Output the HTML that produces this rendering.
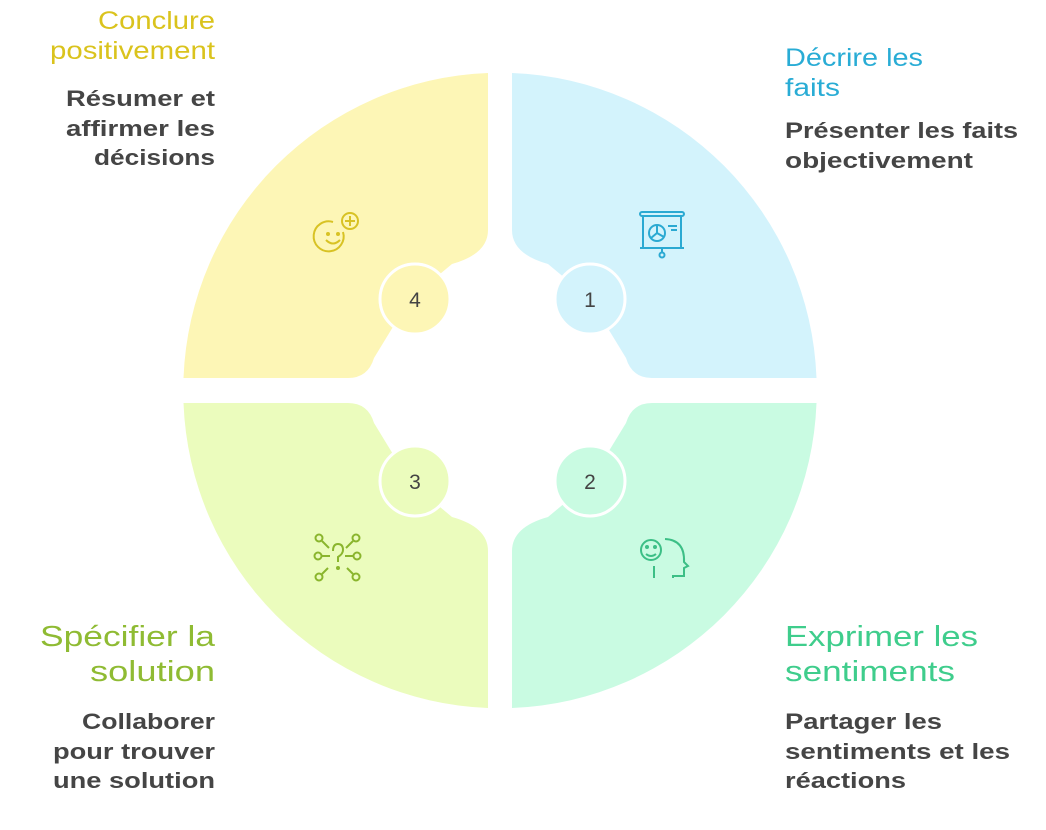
<!DOCTYPE html>
<html><head><meta charset="utf-8"><style>
html,body{margin:0;padding:0;background:#fff;}
svg{display:block;}
text{font-family:"Liberation Sans",sans-serif;}
.t{font-size:25px;}
.tb{font-size:29px;}
.b{font-size:22px;font-weight:bold;fill:#454545;}
</style></head><body>
<svg width="1046" height="830" viewBox="0 0 1046 830" xmlns="http://www.w3.org/2000/svg">
<defs>
<path id="q" d="M512,73 A317,317 0 0 1 816.5,378 L652,378 Q632,378 626,358 L590,299 L548,264 Q512,254 512,230 Z"/>
</defs>
<use href="#q" fill="#d3f3fc"/>
<use href="#q" fill="#fdf6b6" transform="translate(1000,0) scale(-1,1)"/>
<use href="#q" fill="#c9fbe2" transform="translate(0,781) scale(1,-1)"/>
<use href="#q" fill="#ebfcbd" transform="translate(1000,781) scale(-1,-1)"/>

<g stroke="#fff" stroke-width="3">
<circle cx="590" cy="299" r="35" fill="#d3f3fc"/>
<circle cx="415" cy="299" r="35" fill="#fdf6b6"/>
<circle cx="590" cy="481" r="35" fill="#c9fbe2"/>
<circle cx="415" cy="481" r="35" fill="#ebfcbd"/>
</g>
<g font-size="21" fill="#444" text-anchor="middle">
<text x="590" y="307">1</text><text x="415" y="307">4</text>
<text x="590" y="489">2</text><text x="415" y="489">3</text>
</g>

<!-- icon 1 -->
<g fill="none" stroke="#2aa9d2" stroke-width="2">
<rect x="640" y="212" width="44" height="4" rx="2"/>
<path d="M643,216 V248 H681 V216 M640,248 H684 M662,248 V252"/>
<circle cx="662" cy="255" r="2.5"/>
<circle cx="657" cy="233" r="8"/>
<path d="M657,225 V233 L664,237 M657,233 L651,238"/>
<path d="M668,226 H677 M671,230 H677"/>
</g>
<!-- icon 4 -->
<g fill="none" stroke="#d8c224" stroke-width="2">
<path d="M343,232 A15,15 0 1 1 333,222"/>
<circle cx="350" cy="221" r="8"/>
<path d="M350,216 V226 M345,221 H355"/>
<circle cx="328" cy="234" r="1" fill="#d8c224"/><circle cx="338" cy="234" r="1" fill="#d8c224"/>
<path d="M326,240 Q333,247 340,240"/>
</g>
<!-- icon 3 -->
<g fill="none" stroke="#8ab52d" stroke-width="2">
<circle cx="319" cy="538" r="3.5"/><circle cx="356" cy="538" r="3.5"/>
<circle cx="318" cy="556" r="3.5"/><circle cx="357" cy="556" r="3.5"/>
<circle cx="319" cy="577" r="3.5"/><circle cx="356" cy="577" r="3.5"/>
<path d="M322,541 L329,548 M353,541 L346,548 M322,556 H330 M345,556 H353 M322,574 L328,568 M353,574 L347,568"/>
<path d="M333,551 Q333,544 338,544 Q343,544 343,550 Q343,554 338,557 V562"/>
<circle cx="338" cy="568" r="1" fill="#8ab52d"/>
</g>
<!-- icon 2 -->
<g fill="none" stroke="#3cbf86" stroke-width="2">
<circle cx="651" cy="550" r="10"/>
<circle cx="647" cy="547" r="1" fill="#3cbf86"/><circle cx="655" cy="547" r="1" fill="#3cbf86"/>
<path d="M646,554 Q651,558 656,554 M654,566 V578"/>
<path d="M665,539 Q685,540 684,562 L688,566 L684,568 V576 H673 V578"/>
</g>

<!-- texts left -->
<g text-anchor="end">
<text class="t" fill="#dac31d" x="215" y="29" textLength="117" lengthAdjust="spacingAndGlyphs">Conclure</text>
<text class="t" fill="#dac31d" x="215" y="59" textLength="165" lengthAdjust="spacingAndGlyphs">positivement</text>
<text class="b" x="215" y="106" textLength="149" lengthAdjust="spacingAndGlyphs">Résumer et</text>
<text class="b" x="215" y="136" textLength="149" lengthAdjust="spacingAndGlyphs">affirmer les</text>
<text class="b" x="215" y="165" textLength="121" lengthAdjust="spacingAndGlyphs">décisions</text>
<text class="tb" fill="#8fbb33" x="215" y="646" textLength="175" lengthAdjust="spacingAndGlyphs">Spécifier la</text>
<text class="tb" fill="#8fbb33" x="215" y="681" textLength="125" lengthAdjust="spacingAndGlyphs">solution</text>
<text class="b" x="215" y="729" textLength="133" lengthAdjust="spacingAndGlyphs">Collaborer</text>
<text class="b" x="215" y="759" textLength="162" lengthAdjust="spacingAndGlyphs">pour trouver</text>
<text class="b" x="215" y="788" textLength="162" lengthAdjust="spacingAndGlyphs">une solution</text>
</g>
<g>
<text class="t" fill="#29acd5" x="785" y="66" textLength="138" lengthAdjust="spacingAndGlyphs">Décrire les</text>
<text class="t" fill="#29acd5" x="785" y="96" textLength="55" lengthAdjust="spacingAndGlyphs">faits</text>
<text class="b" x="785" y="138" textLength="233" lengthAdjust="spacingAndGlyphs">Présenter les faits</text>
<text class="b" x="785" y="168" textLength="188" lengthAdjust="spacingAndGlyphs">objectivement</text>
<text class="tb" fill="#3fcd8c" x="785" y="646" textLength="193" lengthAdjust="spacingAndGlyphs">Exprimer les</text>
<text class="tb" fill="#3fcd8c" x="785" y="681" textLength="170" lengthAdjust="spacingAndGlyphs">sentiments</text>
<text class="b" x="785" y="729" textLength="157" lengthAdjust="spacingAndGlyphs">Partager les</text>
<text class="b" x="785" y="759" textLength="225" lengthAdjust="spacingAndGlyphs">sentiments et les</text>
<text class="b" x="785" y="788" textLength="121" lengthAdjust="spacingAndGlyphs">réactions</text>
</g>
</svg>
</body></html>
